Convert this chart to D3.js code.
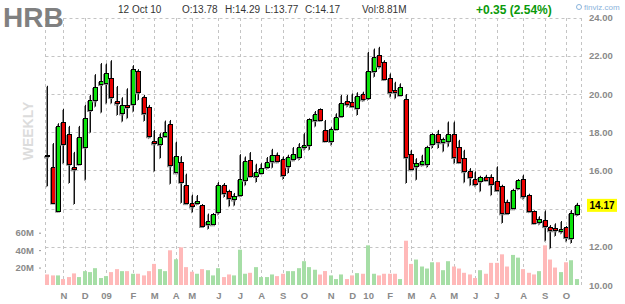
<!DOCTYPE html>
<html>
<head>
<meta charset="utf-8">
<script src="https://cdn.jsdelivr.net/npm/d3@7"></script>
<style>
  body { margin: 0; background: #fff; }
  svg { display: block; }
  text { font-family: "Liberation Sans", Arial, sans-serif; }
</style>
</head>
<body>
<div id="chart"></div>
<script>
// weekly candles, Oct 2008 -> Oct 2010
var open = [16.80, 16.19, 13.88, 18.56, 17.90, 16.19, 16.35, 17.23, 19.15, 19.67,
  20.50, 20.56, 20.82, 19.63, 18.99, 19.43, 19.48, 21.20, 19.83, 19.30,
  17.55, 17.37, 17.83, 18.42, 15.91, 16.45, 15.25, 14.30, 14.30, 14.21,
  13.22, 13.20, 13.86, 15.25, 14.92, 14.50, 14.71, 15.51, 16.56, 15.69,
  15.90, 16.16, 16.49, 16.82, 16.61, 16.21, 16.59, 16.73, 17.22, 17.34,
  18.64, 19.20, 18.12, 17.55, 18.21, 18.87, 19.65, 19.60, 19.30, 20.00,
  19.83, 21.22, 22.02, 21.65, 20.85, 20.21, 19.98, 19.72, 16.87, 16.21,
  16.33, 16.38, 17.37, 17.90, 17.48, 17.51, 17.90, 17.25, 16.64, 15.95,
  15.55, 15.43, 15.65, 15.65, 15.46, 15.20, 14.35, 14.03, 15.08, 15.55,
  14.69, 13.86, 13.29, 13.40, 13.02, 12.97, 12.84, 13.02, 12.45, 13.72];
var high = [20.43, 17.43, 18.47, 19.22, 18.33, 16.97, 18.33, 19.43, 19.95, 21.04,
  21.62, 21.60, 21.77, 20.42, 19.83, 20.30, 21.51, 21.30, 19.95, 19.43,
  18.12, 17.95, 18.61, 18.64, 17.51, 16.75, 15.83, 14.73, 14.71, 14.24,
  13.74, 13.77, 15.39, 15.34, 14.99, 14.82, 16.85, 16.73, 16.96, 16.35,
  16.38, 16.70, 17.13, 16.94, 16.73, 16.82, 17.22, 17.43, 17.95, 18.73,
  19.11, 19.25, 18.64, 18.26, 18.99, 19.95, 19.95, 20.03, 20.09, 20.12,
  22.21, 22.38, 22.47, 21.77, 21.08, 20.64, 20.56, 20.00, 17.08, 16.64,
  16.82, 17.29, 17.95, 18.12, 17.72, 18.56, 18.56, 17.60, 17.08, 16.12,
  15.95, 15.72, 15.77, 15.80, 16.21, 15.25, 14.47, 15.04, 15.55, 15.77,
  14.78, 13.91, 13.60, 13.90, 13.14, 13.23, 13.35, 13.09, 13.93, 14.30];
var low = [15.17, 14.30, 13.85, 16.38, 15.34, 14.24, 16.30, 15.51, 17.98, 19.34,
  19.03, 19.51, 19.51, 18.90, 18.56, 18.73, 19.08, 19.69, 18.59, 17.69,
  15.95, 16.64, 17.77, 15.30, 15.86, 14.30, 14.26, 13.81, 14.21, 13.04,
  12.94, 13.17, 13.69, 14.61, 14.12, 14.16, 14.64, 15.22, 15.69, 15.39,
  15.83, 16.07, 16.14, 16.42, 15.55, 15.86, 16.52, 16.56, 17.08, 17.08,
  18.30, 18.59, 17.51, 17.34, 18.12, 18.82, 19.34, 19.34, 18.90, 19.63,
  19.69, 20.90, 21.34, 20.73, 19.86, 19.77, 19.95, 15.34, 16.03, 15.51,
  16.24, 16.17, 17.17, 17.17, 16.99, 17.25, 16.38, 16.38, 15.37, 15.22,
  15.17, 14.90, 15.46, 14.70, 14.95, 13.25, 13.74, 13.98, 14.99, 14.51,
  13.81, 13.22, 13.17, 12.32, 11.92, 12.57, 12.70, 12.29, 12.20, 13.62];
var close = [16.73, 14.33, 18.31, 17.43, 16.35, 16.07, 17.74, 18.73, 19.67, 20.37,
  20.66, 21.08, 19.83, 19.50, 19.43, 19.34, 21.29, 20.09, 18.99, 17.77,
  17.43, 17.74, 18.03, 16.26, 16.77, 15.42, 14.30, 14.12, 14.40, 13.11,
  13.36, 13.74, 15.25, 14.85, 14.57, 14.68, 15.55, 16.49, 15.74, 15.90,
  16.14, 16.42, 16.82, 16.49, 15.77, 16.70, 16.87, 17.25, 17.34, 18.68,
  18.96, 18.64, 17.57, 18.17, 18.82, 19.55, 19.51, 19.39, 19.91, 19.72,
  21.22, 21.95, 21.46, 20.77, 20.12, 20.12, 20.38, 16.70, 16.07, 16.38,
  16.50, 17.25, 17.90, 17.46, 17.65, 17.90, 16.70, 16.47, 15.95, 15.65,
  15.30, 15.65, 15.51, 15.30, 14.99, 13.77, 13.77, 14.99, 15.48, 14.64,
  13.86, 13.25, 13.43, 13.08, 12.85, 12.85, 12.92, 12.50, 13.75, 14.17];
// weekly volume, millions
var volume = [12.1, 11.0, 11.0, 6.8, 9.1, 13.3, 9.1, 15.9, 14.8, 19.3,
  8.0, 10.2, 14.8, 18.2, 15.9, 15.9, 12.9, 12.9, 11.0, 15.9,
  24.2, 18.2, 15.9, 39.8, 29.5, 43.2, 20.5, 15.2, 12.9, 18.2,
  17.0, 11.0, 19.3, 9.1, 12.1, 11.0, 40.5, 12.9, 14.0, 20.5,
  9.1, 9.1, 12.1, 10.2, 12.9, 15.9, 15.9, 19.3, 27.3, 20.5,
  17.5, 12.0, 16.0, 11.0, 6.8, 12.1, 6.8, 11.0, 13.6, 12.9,
  45.5, 12.9, 11.0, 12.9, 12.9, 12.9, 6.8, 50.8, 24.2, 29.2,
  21.2, 18.9, 26.1, 26.1, 17.0, 27.3, 21.2, 18.9, 14.0, 12.1,
  8.0, 17.0, 12.9, 25.4, 25.4, 35.2, 21.2, 34.5, 31.4, 18.2,
  14.0, 12.1, 15.9, 45.5, 29.2, 20.0, 14.8, 26.1, 28.4, 6.8];

// first week of each month (candle index) and its label
var monthIdx = [3, 7, 11, 16, 20, 24, 27, 32, 36, 40, 44, 48,
  53, 57, 60, 64, 68, 72, 76, 80, 84, 89, 93, 97];
var monthLbl = ["N", "D", "09", "F", "M", "A", "M", "J", "J", "A", "S", "O",
  "N", "D", "10", "F", "M", "A", "M", "J", "J", "A", "S", "O"];
var priceTicks = [24, 22, 20, 18, 16, 14, 12, 10];
var volTicks = [20, 40, 60];

var W = 625, H = 304;
var svg = d3.select("#chart").append("svg")
    .attr("width", W)
    .attr("height", H);

var x = d3.scaleBand()
    .domain(d3.range(open.length))
    .range([44.6, 579.4]);
var cx = function(i) { return Math.round(x(i) + x.bandwidth() / 2); };
var y = d3.scaleLinear().domain([10, 24]).range([285, 17.6]);
var yv = d3.scaleLinear().domain([0, 60]).range([285, 232.7]);

var gridColor = "#c4c4c4";
var left = 45.5, right = 581.5;
var last = close[close.length - 1];

// grid
svg.append("g").selectAll("line")
    .data(priceTicks.filter(function(d) { return d > 10; }))
    .enter().append("line")
    .attr("x1", left).attr("x2", right)
    .attr("y1", function(d) { return Math.round(y(d)) + 0.5; })
    .attr("y2", function(d) { return Math.round(y(d)) + 0.5; })
    .attr("stroke", gridColor)
    .attr("stroke-dasharray", "3,3");

var vx = [left, right].concat(monthIdx.map(function(i) { return cx(i) + 0.5; }));
svg.append("g").selectAll("line")
    .data(vx)
    .enter().append("line")
    .attr("x1", function(d) { return d; })
    .attr("x2", function(d) { return d; })
    .attr("y1", 18).attr("y2", 285)
    .attr("stroke", gridColor)
    .attr("stroke-dasharray", "3,3");

// volume bars
svg.append("g").selectAll("rect")
    .data(volume)
    .enter().append("rect")
    .attr("x", function(d, i) { return cx(i) - 2; })
    .attr("width", 4)
    .attr("y", function(d) { return yv(d); })
    .attr("height", function(d) { return 285 - yv(d); })
    .attr("fill", function(d, i) { return close[i] >= open[i] ? "#a6dea6" : "#ffb9b9"; });

// candles
var candles = svg.append("g").selectAll("g")
    .data(open)
    .enter().append("g");

candles.append("line")   // shadow
    .attr("x1", function(d, i) { return cx(i) - 0.5; })
    .attr("x2", function(d, i) { return cx(i) - 0.5; })
    .attr("y1", function(d, i) { return y(high[i]) + 1; })
    .attr("y2", function(d, i) { return y(low[i]) + 1; })
    .attr("stroke", "#8c8c8c");
candles.append("line")
    .attr("x1", function(d, i) { return cx(i) + 0.5; })
    .attr("x2", function(d, i) { return cx(i) + 0.5; })
    .attr("y1", function(d, i) { return y(high[i]); })
    .attr("y2", function(d, i) { return y(low[i]); })
    .attr("stroke", "#111");
candles.append("rect")   // body shadow
    .attr("x", function(d, i) { return cx(i) - 2.5; })
    .attr("y", function(d, i) { return Math.round(y(Math.max(open[i], close[i]))) + 1.5; })
    .attr("width", 4)
    .attr("height", function(d, i) { return Math.max(1, Math.abs(y(open[i]) - y(close[i]))); })
    .attr("fill", "none")
    .attr("stroke", "#8c8c8c");
candles.append("rect")
    .attr("x", function(d, i) { return cx(i) - 1.5; })
    .attr("y", function(d, i) { return Math.round(y(Math.max(open[i], close[i]))) + 0.5; })
    .attr("width", 4)
    .attr("height", function(d, i) { return Math.max(1, Math.round(Math.abs(y(open[i]) - y(close[i])))); })
    .attr("fill", function(d, i) { return close[i] >= open[i] ? "#0be30b" : "#ea0000"; })
    .attr("stroke", "#000");

// price axis (right); the 14.00 label sits under the last-price tag
var axR = svg.append("g")
    .attr("transform", "translate(589,0)")
    .call(d3.axisRight(y)
        .tickValues(priceTicks.filter(function(d) { return Math.abs(y(d) - y(last)) > 10; }))
        .tickFormat(d3.format(".2f"))
        .tickSize(0).tickPadding(0));
axR.select(".domain").remove();
axR.selectAll("text")
    .style("font-size", "9.5px").style("font-weight", "bold").attr("fill", "#8a8a8a");

// volume axis (left)
var axL = svg.append("g")
    .attr("transform", "translate(41,0)")
    .call(d3.axisLeft(yv).tickValues(volTicks).tickFormat(function(d) { return d + "M"; })
        .tickSize(2).tickPadding(5));
axL.select(".domain").remove();
axL.selectAll("line").attr("stroke", "#999");
axL.selectAll("text")
    .style("font-size", "9.5px").style("font-weight", "bold").attr("fill", "#8a8a8a");

// month axis (bottom)
var axB = svg.append("g")
    .attr("transform", "translate(0.5,285)")
    .call(d3.axisBottom(x).tickValues(monthIdx)
        .tickFormat(function(d, i) { return monthLbl[i]; })
        .tickSize(0).tickPadding(7));
axB.select(".domain").remove();
axB.selectAll("text")
    .style("font-size", "9.5px").style("font-weight", "bold").attr("fill", "#8a8a8a");

// last price tag
svg.append("rect")
    .attr("x", 587).attr("y", y(last) - 6.5)
    .attr("width", 30).attr("height", 13)
    .attr("fill", "#ffff00");
svg.append("text")
    .attr("x", 602).attr("y", y(last)).attr("dy", "0.35em")
    .attr("text-anchor", "middle")
    .style("font-size", "10px").style("font-weight", "bold")
    .attr("fill", "#000")
    .text(d3.format(".2f")(last));

// WEEKLY watermark
svg.append("text")
    .attr("transform", "translate(32.5,131) rotate(-90)")
    .attr("text-anchor", "middle")
    .style("font-size", "14px").style("font-weight", "bold")
    .attr("fill", "#dcdcdc")
    .text("WEEKLY");

// header
svg.append("text")
    .attr("x", 3).attr("y", 27)
    .style("font-size", "28px").style("font-weight", "bold")
    .attr("fill", "#808080")
    .text("HRB");

var hdr = [
  { t: "12 Oct 10", x: 118 },
  { t: "O:13.78", x: 182 },
  { t: "H:14.29", x: 225 },
  { t: "L:13.77", x: 265 },
  { t: "C:14.17", x: 305 },
  { t: "Vol:8.81M", x: 362 }
];
svg.append("g").selectAll("text")
    .data(hdr)
    .enter().append("text")
    .attr("x", function(d) { return d.x; })
    .attr("y", 13)
    .style("font-size", "10px")
    .attr("fill", "#333")
    .text(function(d) { return d.t; });

svg.append("text")
    .attr("x", 476).attr("y", 14)
    .style("font-size", "12px").style("font-weight", "bold")
    .attr("fill", "#0a9a0a")
    .text("+0.35 (2.54%)");

svg.append("circle")
    .attr("cx", 579).attr("cy", 7).attr("r", 2.5)
    .attr("fill", "none").attr("stroke", "#8ab4dc");
svg.append("text")
    .attr("x", 584).attr("y", 10)
    .style("font-size", "8px")
    .attr("fill", "#8ab4dc")
    .text("finviz.com");
</script>
</body>
</html>
